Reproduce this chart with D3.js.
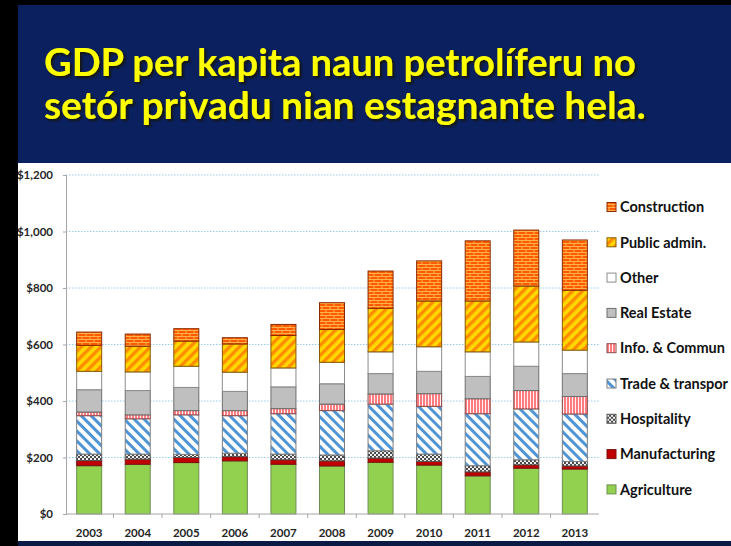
<!DOCTYPE html>
<html>
<head>
<meta charset="utf-8">
<script src="https://cdn.jsdelivr.net/npm/d3@7"></script>
<style>
  body { margin: 0; background: #000; }
  svg { display: block; }
  text { font-family: Lato, "Open Sans", sans-serif; font-weight: bold; }
</style>
</head>
<body>
<svg id="chart" width="731" height="546"></svg>
<script>
// values, $ per capita
const years = ["2003", "2004", "2005", "2006", "2007", "2008", "2009", "2010", "2011", "2012", "2013"];
const agriculture   = [171, 176, 182, 188, 176, 170, 183, 173, 135, 162, 159];
const manufacturing = [18, 18, 18, 15, 16, 18, 15, 13, 14, 12, 11];
const hospitality   = [23, 18, 11, 12, 20, 21, 26, 26, 22, 18, 16];
const trade         = [136, 125, 140, 133, 143, 157, 165, 169, 184, 180, 168];
const info          = [13, 14, 15, 18, 18, 23, 36, 45, 53, 65, 62];
const realEstate    = [79, 86, 82, 68, 77, 72, 72, 79, 79, 86, 81];
const other         = [65, 66, 75, 68, 67, 76, 77, 87, 87, 86, 83];
const publicAdmin   = [92, 91, 89, 100, 115, 116, 154, 162, 180, 198, 212];
const construction  = [47, 43, 44, 22, 39, 95, 132, 142, 213, 198, 178];
const yTicks = [0, 200, 400, 600, 800, 1000, 1200];
const titleLines = ["GDP per kapita naun petrolíferu no", "setór privadu nian estagnante hela."];

const seriesNames = ["Agriculture", "Manufacturing", "Hospitality", "Trade & transport",
  "Info. & Communication", "Real Estate", "Other", "Public admin.", "Construction"];
// legend labels as they show in the slide (the last two run off its edge)
const legendLabels = ["Agriculture", "Manufacturing", "Hospitality", "Trade & transpor",
  "Info. & Commun", "Real Estate", "Other", "Public admin.", "Construction"];
const seriesValues = [agriculture, manufacturing, hospitality, trade, info, realEstate, other, publicAdmin, construction];

const fills = ["#92d050", "#c00000", "url(#hosp)", "url(#trade)", "url(#info)", "#bfbfbf", "#ffffff", "url(#stripes)", "url(#brick)"];
const strokes = ["#6f8f50", "#7a1010", "#555", "#7f7f7f", "#8a4a4a", "#6f6f6f", "#8c8c8c", "#8a5a00", "#8a2a00"];

const rows = years.map((yr, i) => {
  const r = {year: yr};
  seriesNames.forEach((s, j) => r[s] = seriesValues[j][i]);
  return r;
});

const svg = d3.select("#chart");
const defs = svg.append("defs");

// patterns
const brick = defs.append("pattern").attr("id", "brick").attr("patternUnits", "userSpaceOnUse")
  .attr("width", 8).attr("height", 6);
brick.append("rect").attr("width", 8).attr("height", 6).attr("fill", "#ff5a00");
brick.append("path").attr("d", "M0,0.5H8M0,3.5H8M2,0.5V3.5M6,3.5V6.5")
  .attr("stroke", "#ffb24a").attr("stroke-width", 1);

const stripes = defs.append("pattern").attr("id", "stripes").attr("patternUnits", "userSpaceOnUse")
  .attr("width", 7).attr("height", 7).attr("patternTransform", "rotate(45)");
stripes.append("rect").attr("width", 7).attr("height", 7).attr("fill", "#ffd800");
stripes.append("rect").attr("width", 3.3).attr("height", 7).attr("fill", "#ff8c00");

const tr = defs.append("pattern").attr("id", "trade").attr("patternUnits", "userSpaceOnUse")
  .attr("width", 7).attr("height", 7).attr("patternTransform", "rotate(-45)");
tr.append("rect").attr("width", 7).attr("height", 7).attr("fill", "#ffffff");
tr.append("rect").attr("width", 3).attr("height", 7).attr("fill", "#4f94d4");

const inf = defs.append("pattern").attr("id", "info").attr("patternUnits", "userSpaceOnUse")
  .attr("width", 3).attr("height", 3);
inf.append("rect").attr("width", 3).attr("height", 3).attr("fill", "#ff7c80");
inf.append("rect").attr("x", 2.1).attr("width", 0.9).attr("height", 3).attr("fill", "#ffffff");

const hosp = defs.append("pattern").attr("id", "hosp").attr("patternUnits", "userSpaceOnUse")
  .attr("width", 4).attr("height", 4);
hosp.append("rect").attr("width", 4).attr("height", 4).attr("fill", "#4a4a4a");
hosp.append("rect").attr("width", 2).attr("height", 2).attr("fill", "#f0f0f0");
hosp.append("rect").attr("x", 2).attr("y", 2).attr("width", 2).attr("height", 2).attr("fill", "#f0f0f0");

defs.append("clipPath").attr("id", "frame").append("rect")
  .attr("x", 18).attr("y", 0).attr("width", 713).attr("height", 546);

const shadow = defs.append("filter").attr("id", "shadow")
  .attr("x", "-5%").attr("y", "-20%").attr("width", "110%").attr("height", "140%");
shadow.append("feDropShadow").attr("dx", 2).attr("dy", 2).attr("stdDeviation", 0.8)
  .attr("flood-color", "#15150a").attr("flood-opacity", 1);

// slide frame
svg.append("rect").attr("width", 731).attr("height", 546).attr("fill", "#000");
svg.append("rect").attr("x", 18).attr("y", 5).attr("width", 713).attr("height", 158).attr("fill", "#0b205e");
svg.append("rect").attr("x", 18).attr("y", 163).attr("width", 713).attr("height", 378).attr("fill", "#fff");

// title
const title = svg.append("g").attr("filter", "url(#shadow)");
const titleBase = [76, 119];
const titleWidth = [592, 602];
titleLines.forEach((t, i) => {
  const line = title.append("text").attr("x", 44).attr("y", titleBase[i])
    .attr("fill", "#ffff00").style("font-size", "30px").text(t);
  const fs = 30 * titleWidth[i] / line.node().getComputedTextLength();
  line.style("font-size", fs + "px");
});

// chart
const x = d3.scaleBand().domain(years).range([65, 599]).paddingInner(0.485).paddingOuter(0.24);
const y = d3.scaleLinear().domain([0, 1200]).range([514, 175]);

const plot = svg.append("g").attr("clip-path", "url(#frame)");

plot.append("g").selectAll("line").data(yTicks.slice(1)).join("line")
  .attr("x1", 66).attr("x2", 599)
  .attr("y1", d => y(d)).attr("y2", d => y(d))
  .attr("stroke", "#9ccbe8").attr("stroke-width", 1).attr("stroke-dasharray", "1.5,1.5");

const stack = d3.stack().keys(seriesNames)(rows);

plot.append("g").selectAll("g").data(stack).join("g")
  .attr("fill", (d, i) => fills[i])
  .attr("stroke", (d, i) => strokes[i])
  .selectAll("rect").data(d => d).join("rect")
  .attr("x", d => x(d.data.year))
  .attr("width", x.bandwidth())
  .attr("y", d => y(d[1]))
  .attr("height", d => y(d[0]) - y(d[1]))
  .attr("stroke-width", 1);

const yAxis = plot.append("g").attr("transform", "translate(66,0)")
  .call(d3.axisLeft(y).tickValues(yTicks).tickSize(3).tickPadding(10)
    .tickFormat(d => "$" + d3.format(",")(d)));
yAxis.select(".domain").attr("stroke", "#a6a6a6");
yAxis.selectAll("line").attr("stroke", "#a6a6a6");
yAxis.selectAll("text").attr("fill", "#262626").style("font-size", "11.5px");

const xAxis = plot.append("g").attr("transform", "translate(0,514)")
  .call(d3.axisBottom(x).tickSize(0).tickPadding(15));
xAxis.select(".domain").attr("stroke", "#a6a6a6").attr("d", "M66,0H599");
xAxis.selectAll("text").attr("fill", "#262626").style("font-size", "11.5px");
xAxis.selectAll(".sep").data(years.slice(1)).join("line").attr("class", "sep")
  .attr("x1", d => x(d) - x.step() * x.paddingInner() / 2)
  .attr("x2", d => x(d) - x.step() * x.paddingInner() / 2)
  .attr("y1", 0).attr("y2", 4).attr("stroke", "#a6a6a6");

// legend, top entry is the last series
const order = d3.range(seriesNames.length).reverse();
const legend = plot.append("g").attr("transform", "translate(607,207)");
const items = legend.selectAll("g").data(order).join("g")
  .attr("transform", (d, i) => `translate(0,${i * 35.3})`);
items.append("rect").attr("x", 0).attr("y", -4.5).attr("width", 9).attr("height", 9)
  .attr("fill", d => fills[d])
  .attr("stroke", d => strokes[d]).attr("stroke-width", 1);
items.append("text").attr("x", 13).attr("dy", "0.36em")
  .attr("fill", "#111").style("font-size", "14.5px").text(d => legendLabels[d]);

// frame edges on top
svg.append("rect").attr("x", 0).attr("y", 0).attr("width", 18).attr("height", 546).attr("fill", "#000");
svg.append("rect").attr("x", 18).attr("y", 541).attr("width", 713).attr("height", 5).attr("fill", "#0b1a44");
</script>
</body>
</html>
